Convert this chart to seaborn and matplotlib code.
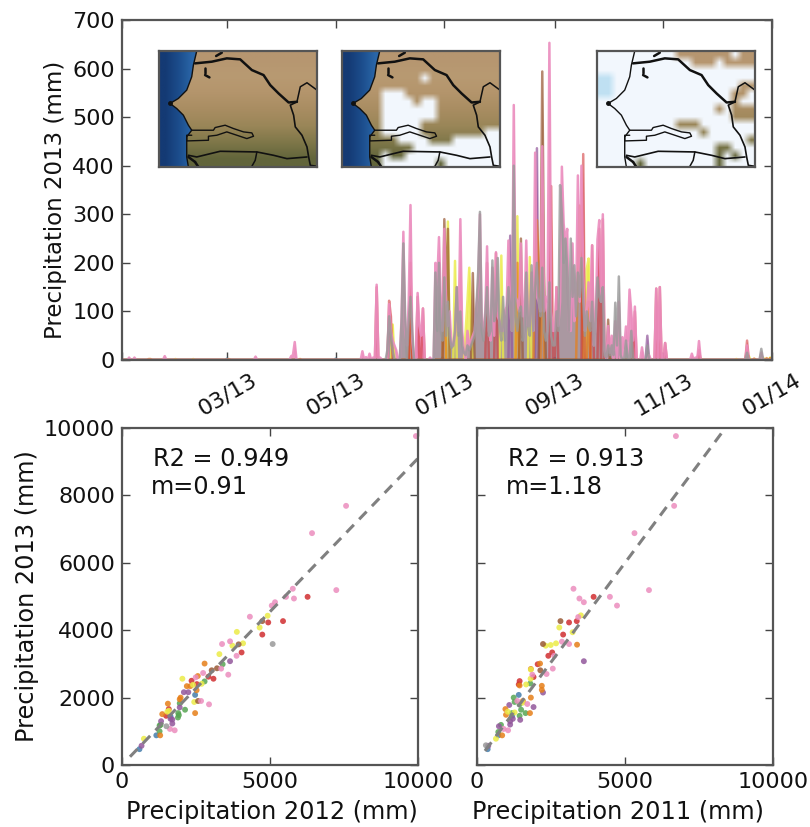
import numpy as np
import pandas as pd
import matplotlib
matplotlib.use('Agg')
import matplotlib.pyplot as plt
import matplotlib.dates as mdates
from matplotlib.patches import Polygon
import seaborn as sns

# daily precipitation 2013, days not listed are 0 (day number, mm)
pink_days = [4,7,24,75,95,96,97,135,137,139,141,143,145,150,151,152,153,154,157,158,159,160,161,162,163,166,167,168,169,173,
             176,177,178,179,180,181,182,183,184,185,186,187,188,189,190,191,192,194,195,196,197,198,199,200,201,202,203,204,205,206,207,208,209,210,211,212,213,214,215,216,217,218,219,
             220,221,222,223,224,225,226,227,228,229,230,231,232,233,234,235,236,237,238,239,240,241,242,243,244,245,246,247,248,249,250,251,252,253,254,255,
             256,257,258,259,260,261,262,263,264,265,266,267,268,269,270,271,273,274,275,277,279,281,282,283,284,285,286,287,288,292,296,300,302,305,
             320,322,324,351,359]
pink_mm = [5,5,8,7,8,10,37,18,6,13,5,155,5,115,60,40,30,20,90,264,60,30,120,319,40,138,70,50,106,5,
           200,160,253,120,60,270,120,70,100,30,30,50,150,60,290,60,20,60,30,40,50,60,110,150,300,80,60,100,234,60,40,190,50,222,90,80,60,60,100,110,246,110,60,
           525,130,120,100,240,90,90,246,70,70,180,60,427,130,120,100,440,100,130,120,653,100,60,60,150,70,120,398,281,240,270,60,60,240,80,120,
           380,120,400,180,60,100,160,80,236,30,80,248,288,120,300,20,70,15,50,80,120,47,25,69,40,145,99,40,110,26,10,147,150,35,
           13,5,39,30,15]

grey_days = list(range(176, 281)) + [149,150,151,152,157,158,159,161,162,163,283,286,295,351,359]
grey_mm = [180,60,200,60,40,170,50,120,50,25,30,60,150,50,100,30,15,10,30,20,30,40,50,110,180,305,60,40,90,150,50,60,205,80,100,210,70,40,130,40,
           100,150,110,60,400,90,60,100,110,40,60,180,70,50,195,60,150,200,120,90,190,60,40,60,160,50,30,30,100,60,360,300,200,250,190,60,250,130,195,90,
           180,130,210,120,50,100,70,60,120,30,80,170,130,120,150,10,5,30,10,30,10,118,30,172,10,
           20,90,50,20,80,240,90,80,130,60,40,60,30,15,23]

red_days = [143,150,151,162,166,169,205,210,241,244,259,264,268,270,288,300,302,305,324,351]
red_mm = [150,122,90,200,130,106,200,220,358,150,424,236,270,290,100,147,150,35,20,40]
brown_days = [181,182,183,197,224,235,236,237,273]
brown_mm = [290,120,270,179,250,150,594,180,83]
orange_days = [15,16,60,100,162,181,222,232,233,234,236,256,257,258,262,351,355,362,364]
orange_mm = [2,2,2,2,130,200,200,180,288,200,300,200,318,160,120,20,3,4,4]
yellow_days = [30,40,152,183,187,193,194,195,196,213,222,229,261,262,325,345,352,360,364]
yellow_mm = [2,2,73,285,204,60,122,190,90,215,296,212,188,209,3,2,8,5,5]
purple_days = [218,233,295]
purple_mm = [256,436,50]
blue_days = [59,120,180,243]
blue_mm = [3,3,5,4]

# scatter panels, each station group: x 2012, y 2013, x 2011, y 2013
red_x12 = [6270,5440,4940,4740,4040,3090,2920,2350,2530,1490,1580]
red_y12 = [4990,4270,4230,3870,3340,2560,2620,2500,2400,1460,1660]
brown_x12 = [4740,3940,3030,3210,2570]
brown_y12 = [4270,3580,2810,2870,1900]
orange_x12 = [2790,2190,2560,2520,1550,2470,1360,1980,1950,1290,2310]
orange_y12 = [3010,2340,2640,2220,1820,1540,1510,2000,1950,880,2340]
yellow_x12 = [3880,3290,2040,4920,4650,3730,4090,2400,740,2440,1580,1530,2690]
yellow_y12 = [3950,3290,2560,4430,4080,3540,3610,2380,780,1870,1610,1580,2410]
purple_x12 = [3650,2090,2240,1950,1700,1700,1640,1320,660]
purple_y12 = [3080,2160,2160,1710,1350,1230,1370,1300,570]
green_x12 = [3400,2790,1950,2130,1900,1920,1890,1270,1300,1270]
green_y12 = [2990,2480,1830,1640,1540,1480,1410,1170,1190,1000]
blue_x12 = [2470,1640,1160,590]
blue_y12 = [2080,1440,880,470]
pink_x12 = [9930,7570,6420,7240,5810,5770,5540,5170,5060,4320,3380,3650,3870,3590,3350,2740,2940,2670,1780,1620,2490]
pink_y12 = [9760,7690,6880,5190,4940,5230,4990,4830,4730,4400,3590,3670,3240,2680,2860,2730,1800,1900,1030,1070,2600]
grey_x12 = [5090,1500]
grey_y12 = [3590,1150]

red_x11 = [3940,3110,3370,2910,2410,2540,2050,1910,1440,1410]
red_y11 = [4990,4230,4270,3870,3240,3340,2990,2610,2490,2390]
brown_x11 = [2820,2230,2140]
brown_y11 = [4270,3590,2810]
orange_x11 = [2130,3380,1820,1440,2190,2190,1820,1550,960,980,1790,850]
orange_y11 = [3010,3570,2850,2360,2350,2230,2000,1900,1660,1490,1540,880]
yellow_x11 = [2780,3230,2320,2490,2670,3510,1810,1660,1550,1270,1040,640,1820]
yellow_y11 = [4080,3940,3540,3560,3610,4440,2560,2390,1850,1560,1580,780,2830]
purple_x11 = [3610,2230,1910,1090,1120,1120,1210,1460,740,380]
purple_y11 = [3080,2150,1720,1780,1300,1200,1370,1340,1150,570]
green_x11 = [1800,1240,1270,1440,1640,1440,1180,810,720,1490]
green_y11 = [2420,2000,1870,1800,1540,1460,1540,1190,980,1640]
blue_x11 = [1410,720,360,1190]
blue_y11 = [2080,880,470,1460]
pink_x11 = [6720,6660,5320,3260,4490,4730,3460,3610,3110,2610,2560,2350,2870,3420,1870,5810,1050,900,1700,1360]
pink_y11 = [9760,7690,6880,5230,4990,4730,4940,4830,3590,3240,2860,2700,3660,4390,2680,5190,1030,1070,1810,1900]
grey_x11 = [300]
grey_y11 = [585]

# fit lines
fit_slope = [0.91, 1.18]
fit_icpt = [0, 100]
fit_r2 = ['R2 = 0.949', 'R2 = 0.913']
fit_m = ['m=0.91', 'm=1.18']

# map outlines, in map pixels
coast_x = [140,130,125,110,85,60,80,100,115,125,110,110,110,115]
coast_y = [33,75,110,150,175,190,205,225,255,270,290,330,350,380]
north_x = [135,185,230,270,305,340,360,385,415,440]
north_y = [70,65,55,58,90,105,135,160,187,185]
east_x = [440,420,430,435,455,470,475,480,500]
east_y = [185,195,225,260,285,320,350,375,378]
mali_x = [440,450,470,500]
mali_y = [185,140,128,150]
south_x = [115,140,210,320,370,410,470]
south_y = [345,350,333,335,345,355,350]
guinea_x = [320,315,305]
guinea_y = [335,360,378]
gambia_x = [125,190,195,225,250,280,305,310,290,260,230,200,175,175,110,110,125]
gambia_y = [270,270,262,255,265,275,278,288,295,285,275,285,288,300,302,285,285]
lake_x = [[198,215],[165,165],[165,178],[115,135],[135,145]]
lake_y = [[48,38],[85,100],[105,112],[350,365],[365,380]]

land_rows = ['#b69670','#b89a72','#b4956c','#a98d62','#9a8658','#7f7749','#62653b']
ocean_cols = ['#143a74','#1c4d8c','#2a66a8']

# cloud cover, # cloud, ~ thin blue cloud
clouds_a = ['....................'] * 15
clouds_b = ['....................',
            '....................',
            '....................',
            '..........#.........',
            '....................',
            '.....###............',
            '.....####.##........',
            '.....#######........',
            '.....#######........',
            '.....#####..........',
            '.....#####........##',
            '.......####...######',
            '.........###########',
            '.....#..############',
            '.....#######.#######']
clouds_c = ['##########.......#..',
            '############...#....',
            '####################',
            '~~##################',
            '~~################..',
            '~~###############..#',
            '#################.##',
            '###############.#...',
            '#################...',
            '##########...#######',
            '#############.######',
            '###################.',
            '###############..###',
            '###############.#.##',
            '#####.#########.####']

sns.set_style('white')
plt.rcParams['font.family'] = ['DejaVu Sans']
plt.rcParams['axes.edgecolor'] = '#555555'
plt.rcParams['axes.linewidth'] = 1.6
plt.rcParams['text.color'] = '#111111'
plt.rcParams['axes.labelcolor'] = '#111111'
plt.rcParams['xtick.labelcolor'] = '#111111'
plt.rcParams['ytick.labelcolor'] = '#111111'
set1 = sns.color_palette('Set1', 9, desat=0.8)
FW, FH = 810.0, 827.0


def make_axes(fig, left, top, right, bottom):
    return fig.add_axes([left/FW, 1-bottom/FH, (right-left)/FW, (bottom-top)/FH])


def daily(days, mm):
    s = pd.Series(mm, index=days).reindex(range(366), fill_value=0)
    s.index = pd.date_range('2013-01-01', periods=366)
    return s


def style_ticks(ax):
    ax.tick_params(which='both', direction='in', length=6, width=1, color='#444444',
                   top=True, right=True, bottom=True, left=True, labelsize=16, pad=5)


def draw_map(fig, left, rows):
    ax = make_axes(fig, left, 51, left+158, 167)
    ext = [27, 500, 380, 33]
    land = np.array([[matplotlib.colors.to_rgb(c)] for c in land_rows])
    ax.imshow(land, extent=ext, aspect='auto', interpolation='bilinear')
    ocean = Polygon(list(zip(coast_x, coast_y)) + [(27,380),(27,33)], transform=ax.transData, fc='none', ec='none')
    ax.add_patch(ocean)
    sea = np.array([[matplotlib.colors.to_rgb(c) for c in ocean_cols]])
    im = ax.imshow(sea, extent=[27, 145, 380, 33], aspect='auto', interpolation='bilinear')
    im.set_clip_path(ocean)
    tint = {'#': (0.95,0.97,0.995,1.0), '~': (0.75,0.88,0.95,1.0), '.': (0.95,0.97,0.995,0.0)}
    cl = np.array([[tint[c] for c in r] for r in rows])
    ax.imshow(cl, extent=ext, aspect='auto', interpolation='bilinear')
    lines = [(coast_x, coast_y, 1.0), (north_x, north_y, 1.8), (east_x, east_y, 1.2), (mali_x, mali_y, 1.1),
             (south_x, south_y, 1.2), (guinea_x, guinea_y, 1.1), (gambia_x, gambia_y, 1.0)]
    for xs, ys, lw in lines:
        ax.plot(xs, ys, color='#111111', lw=lw)
    for xs, ys in zip(lake_x, lake_y):
        ax.plot(xs, ys, color='#111111', lw=1.8)
    ax.plot([60], [190], 'o', color='#111111', ms=2.5)
    ax.set_xlim(27, 500)
    ax.set_ylim(380, 33)
    ax.set_xticks([])
    ax.set_yticks([])


fig = plt.figure(figsize=(8.1, 8.27), dpi=100)

# time series
ax1 = make_axes(fig, 122, 20, 772, 360)
series = [(blue_days, blue_mm, 1, 0.7), (purple_days, purple_mm, 3, 0.7), (yellow_days, yellow_mm, 5, 0.8),
          (orange_days, orange_mm, 4, 0.7), (brown_days, brown_mm, 6, 0.7), (red_days, red_mm, 0, 0.55),
          (pink_days, pink_mm, 7, 0.9), (grey_days, grey_mm, 8, 0.8)]
for days, mm, c, a in series:
    s = daily(days, mm)
    sns.lineplot(x=s.index, y=s.values, color=set1[c], lw=1.8, alpha=a, ax=ax1, estimator=None)
    ax1.fill_between(s.index, 0, s.values, color=set1[c], alpha=a, lw=0)
ax1.set_xlim(pd.Timestamp('2013-01-01'), pd.Timestamp('2014-01-01'))
ax1.set_ylim(0, 700)
ax1.xaxis.set_major_locator(mdates.MonthLocator(bymonth=[1,3,5,7,9,11]))
ax1.xaxis.set_major_formatter(mdates.DateFormatter('%m/%y'))
ax1.set_yticks(range(0, 701, 100))
style_ticks(ax1)
ax1.tick_params(axis='x', labelrotation=30, pad=7)
labels = ax1.get_xticklabels()
labels[0].set_visible(False)
ax1.set_xlabel('')
ax1.set_ylabel('Precipitation 2013 (mm)', fontsize=16.5)
ax1.yaxis.set_label_coords(-0.103, 0.47)
ax1.yaxis.label.set_va('center')

draw_map(fig, 159, clouds_a)
draw_map(fig, 342, clouds_b)
draw_map(fig, 597, clouds_c)

# scatter panels
groups12 = [(red_x12, red_y12, 0), (blue_x12, blue_y12, 1), (green_x12, green_y12, 2), (purple_x12, purple_y12, 3),
            (orange_x12, orange_y12, 4), (yellow_x12, yellow_y12, 5), (brown_x12, brown_y12, 6),
            (pink_x12, pink_y12, 7), (grey_x12, grey_y12, 8)]
groups11 = [(red_x11, red_y11, 0), (blue_x11, blue_y11, 1), (green_x11, green_y11, 2), (purple_x11, purple_y11, 3),
            (orange_x11, orange_y11, 4), (yellow_x11, yellow_y11, 5), (brown_x11, brown_y11, 6),
            (pink_x11, pink_y11, 7), (grey_x11, grey_y11, 8)]
panels = [(122, 418, groups12, 'Precipitation 2012 (mm)', 0, 0.505), (477, 773, groups11, 'Precipitation 2011 (mm)', 1, 0.478)]
for left, right, groups, xlab, i, xlab_pos in panels:
    ax = make_axes(fig, left, 428, right, 765)
    frames = [pd.DataFrame({'x': gx, 'y': gy, 'station': c}) for gx, gy, c in groups]
    df = pd.concat(frames)
    sns.scatterplot(data=df, x='x', y='y', hue='station', palette=dict(enumerate(set1)), s=18,
                    alpha=0.85, linewidth=0, legend=False, ax=ax)
    xs = np.array([270, 10000])
    ax.plot(xs, fit_slope[i]*xs + fit_icpt[i], color='#808080', ls='--', lw=2.2, dashes=(3.5, 2.5))
    ax.set_xlim(0, 10000)
    ax.set_ylim(0, 10000)
    ax.set_xticks([0, 5000, 10000])
    ax.set_yticks(range(0, 10001, 2000))
    style_ticks(ax)
    ax.set_xlabel(xlab, fontsize=17.3)
    ax.xaxis.set_label_coords(xlab_pos, -0.139)
    ax.xaxis.label.set_va('center')
    if i == 0:
        ax.set_ylabel('Precipitation 2013 (mm)', fontsize=17.3)
        ax.yaxis.set_label_coords(-0.32, 0.5)
        ax.yaxis.label.set_va('center')
    else:
        ax.set_ylabel('')
        ax.set_yticklabels([])
    ax.text(1050, 9080, fit_r2[i], fontsize=17.3, va='center')
    ax.text(980, 8250, fit_m[i], fontsize=17.3, va='center')

fig.savefig('out.png', dpi=100)
